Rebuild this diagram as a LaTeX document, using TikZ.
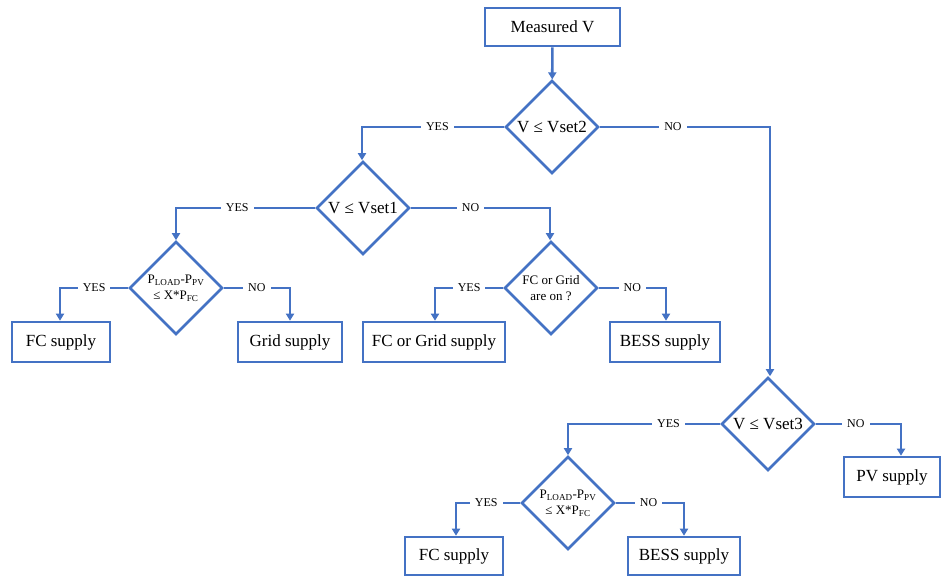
\documentclass[tikz,border=0pt]{standalone}
\usepackage{fontspec}
\setmainfont{Liberation Serif}
\usetikzlibrary{shapes.geometric,arrows.meta}
\definecolor{fcblue}{HTML}{4472C4}
\begin{document}
\begin{tikzpicture}[x=1pt,y=-1pt,
  box/.style={draw=fcblue,line width=2.6pt,rectangle,inner sep=0pt,font=\fontsize{17}{20}\selectfont,fill=white},
  dec/.style={draw=fcblue,line width=2.6pt,diamond,inner sep=0pt,minimum width=93pt,minimum height=93pt,align=center,fill=white},
  conn/.style={draw=fcblue,line width=2.6pt,-{Triangle[length=7pt,width=8pt]}},
  lbl/.style={fill=white,font=\fontsize{12}{14}\selectfont,inner xsep=5pt,inner ysep=2pt,text=black}]
\useasboundingbox (0,0) rectangle (944,577);
\fill[white] (0,0) rectangle (944,577);

% boxes
\node[box,minimum width=135pt,minimum height=38pt] (m) at (552.5,27) {Measured V};
\node[box,minimum width=98pt,minimum height=40pt] (fc1) at (61,342) {FC supply};
\node[box,minimum width=104pt,minimum height=40pt] (grid1) at (290,342) {Grid supply};
\node[box,minimum width=142pt,minimum height=40pt] (fcg) at (434,342) {FC or Grid supply};
\node[box,minimum width=110pt,minimum height=40pt] (bess1) at (665,342) {BESS supply};
\node[box,minimum width=96pt,minimum height=40pt] (pv) at (892,477) {PV supply};
\node[box,minimum width=98pt,minimum height=38pt] (fc2) at (454,556) {FC supply};
\node[box,minimum width=112pt,minimum height=38pt] (bess2) at (684,556) {BESS supply};

% decisions
\node[dec,font=\fontsize{17}{20}\selectfont] (d1) at (552,127) {V ≤ Vset2};
\node[dec,font=\fontsize{17}{20}\selectfont] (d2) at (363,208) {V ≤ Vset1};
\node[dec,font=\fontsize{17}{20}\selectfont] (d3) at (768,424) {V ≤ Vset3};
\node[dec,font=\fontsize{13}{16}\selectfont] (d4) at (176,288) {P\textsubscript{LOAD}-P\textsubscript{PV}\\≤ X*P\textsubscript{FC}};
\node[dec,font=\fontsize{13}{16}\selectfont] (d5) at (551,288) {FC or Grid\\are on ?};
\node[dec,font=\fontsize{13}{16}\selectfont] (d6) at (568,503) {P\textsubscript{LOAD}-P\textsubscript{PV}\\≤ X*P\textsubscript{FC}};

% corner coordinates
\coordinate (c1l) at (362,127);
\coordinate (c1r) at (770,127);
\coordinate (c2l) at (176,208);
\coordinate (c2r) at (550,208);
\coordinate (c4l) at (60,288);
\coordinate (c4r) at (290,288);
\coordinate (c5l) at (435,288);
\coordinate (c5r) at (666,288);
\coordinate (c3l) at (568,424);
\coordinate (c3r) at (901,424);
\coordinate (c6l) at (456,503);
\coordinate (c6r) at (684,503);

% connectors
\draw[conn] (m) -- (d1);
\draw[conn] (d1.west) -- node[lbl,pos=0.47]{YES} (c1l) -- (c1l |- d2.north);
\draw[conn] (d1.east) -- node[lbl,pos=0.43]{NO} (c1r) -- (c1r |- d3.north);
\draw[conn] (d2.west) -- node[lbl,pos=0.56]{YES} (c2l) -- (c2l |- d4.north);
\draw[conn] (d2.east) -- node[lbl,pos=0.43]{NO} (c2r) -- (c2r |- d5.north);
\draw[conn] (d4.west) -- node[lbl,pos=0.5]{YES} (c4l) -- (c4l |- fc1.north);
\draw[conn] (d4.east) -- node[lbl,pos=0.5]{NO} (c4r) -- (c4r |- grid1.north);
\draw[conn] (d5.west) -- node[lbl,pos=0.5]{YES} (c5l) -- (c5l |- fcg.north);
\draw[conn] (d5.east) -- node[lbl,pos=0.5]{NO} (c5r) -- (c5r |- bess1.north);
\draw[conn] (d3.west) -- node[lbl,pos=0.34]{YES} (c3l) -- (c3l |- d6.north);
\draw[conn] (d3.east) -- node[lbl,pos=0.47]{NO} (c3r) -- (c3r |- pv.north);
\draw[conn] (d6.west) -- node[lbl,pos=0.53]{YES} (c6l) -- (c6l |- fc2.north);
\draw[conn] (d6.east) -- node[lbl,pos=0.48]{NO} (c6r) -- (c6r |- bess2.north);
\end{tikzpicture}
\end{document}
